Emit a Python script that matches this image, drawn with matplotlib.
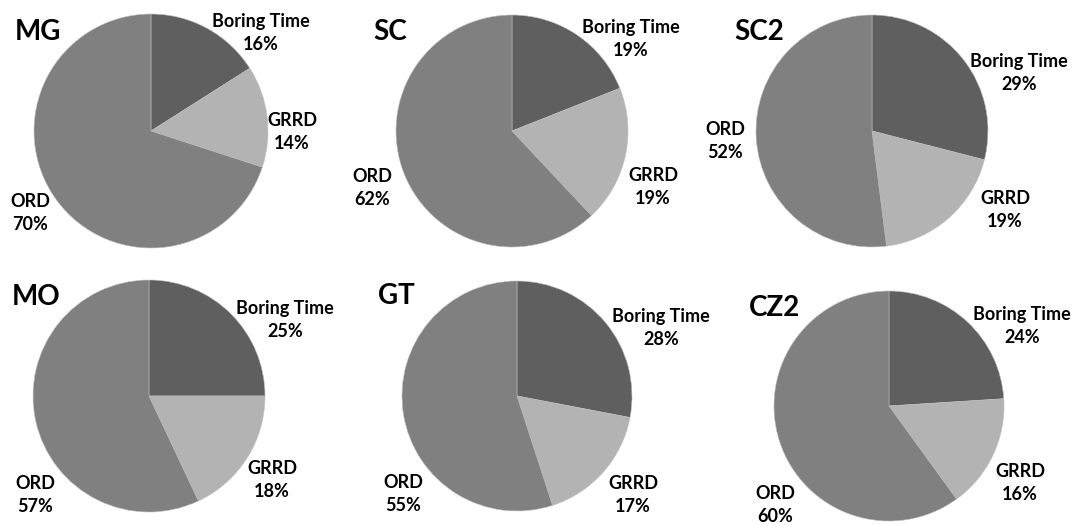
import matplotlib
matplotlib.use("Agg")
import matplotlib.pyplot as plt

# ---- data ----
charts = ["MG", "SC", "SC2", "MO", "GT", "CZ2"]
categories = ["Boring Time", "GRRD", "ORD"]
boring_time = [16, 19, 29, 25, 28, 24]
grrd = [14, 19, 19, 18, 17, 16]
ord_ = [70, 62, 52, 57, 55, 60]
colors = ["#5f5f5f", "#b3b3b3", "#808080"]

# ---- layout (pixel coordinates, y from top) ----
W, H = 1076, 525
centers = [(151, 131), (512, 131), (872, 131), (149, 396), (517, 396), (889, 406)]
radii = [117, 116, 116, 116, 115, 115]
title_pos = [(38, 32), (390, 32), (759, 32), (36, 297), (396, 296), (775, 308)]
label_pos = [
    [(261, 33), (292, 132), (30, 213)],
    [(631, 39), (653, 187), (372, 188)],
    [(1019, 73), (1005, 210), (725, 141)],
    [(285, 320), (272, 480), (35, 495)],
    [(661, 328), (633, 495), (403, 494)],
    [(1022, 326), (1020, 483), (775, 505)],
]

plt.rcParams['font.family'] = ['Lato', 'DejaVu Sans']

fig = plt.figure(figsize=(W / 100, H / 100), dpi=100)
ax = fig.add_axes([0, 0, 1, 1])

for i, name in enumerate(charts):
    vals = [boring_time[i], grrd[i], ord_[i]]
    cx, cy = centers[i]
    ax.pie(vals, colors=colors, startangle=90, counterclock=False,
           center=(cx, H - cy), radius=radii[i],
           wedgeprops=dict(edgecolor="#bdbdbd", linewidth=0.4))
    tx, ty = title_pos[i]
    ax.text(tx, H - ty, name, fontsize=20, fontweight='bold',
            ha='center', va='center', color='black')
    for j, cat in enumerate(categories):
        lx, ly = label_pos[i][j]
        ax.text(lx, H - ly, f"{cat}\n{vals[j]}%", fontsize=13, fontweight='bold',
                ha='center', va='center', color='black', linespacing=1.4)

ax.set_xlim(0, W)
ax.set_ylim(0, H)
ax.set_aspect('equal')
ax.axis('off')

fig.savefig("out.png", dpi=100, facecolor='white')
